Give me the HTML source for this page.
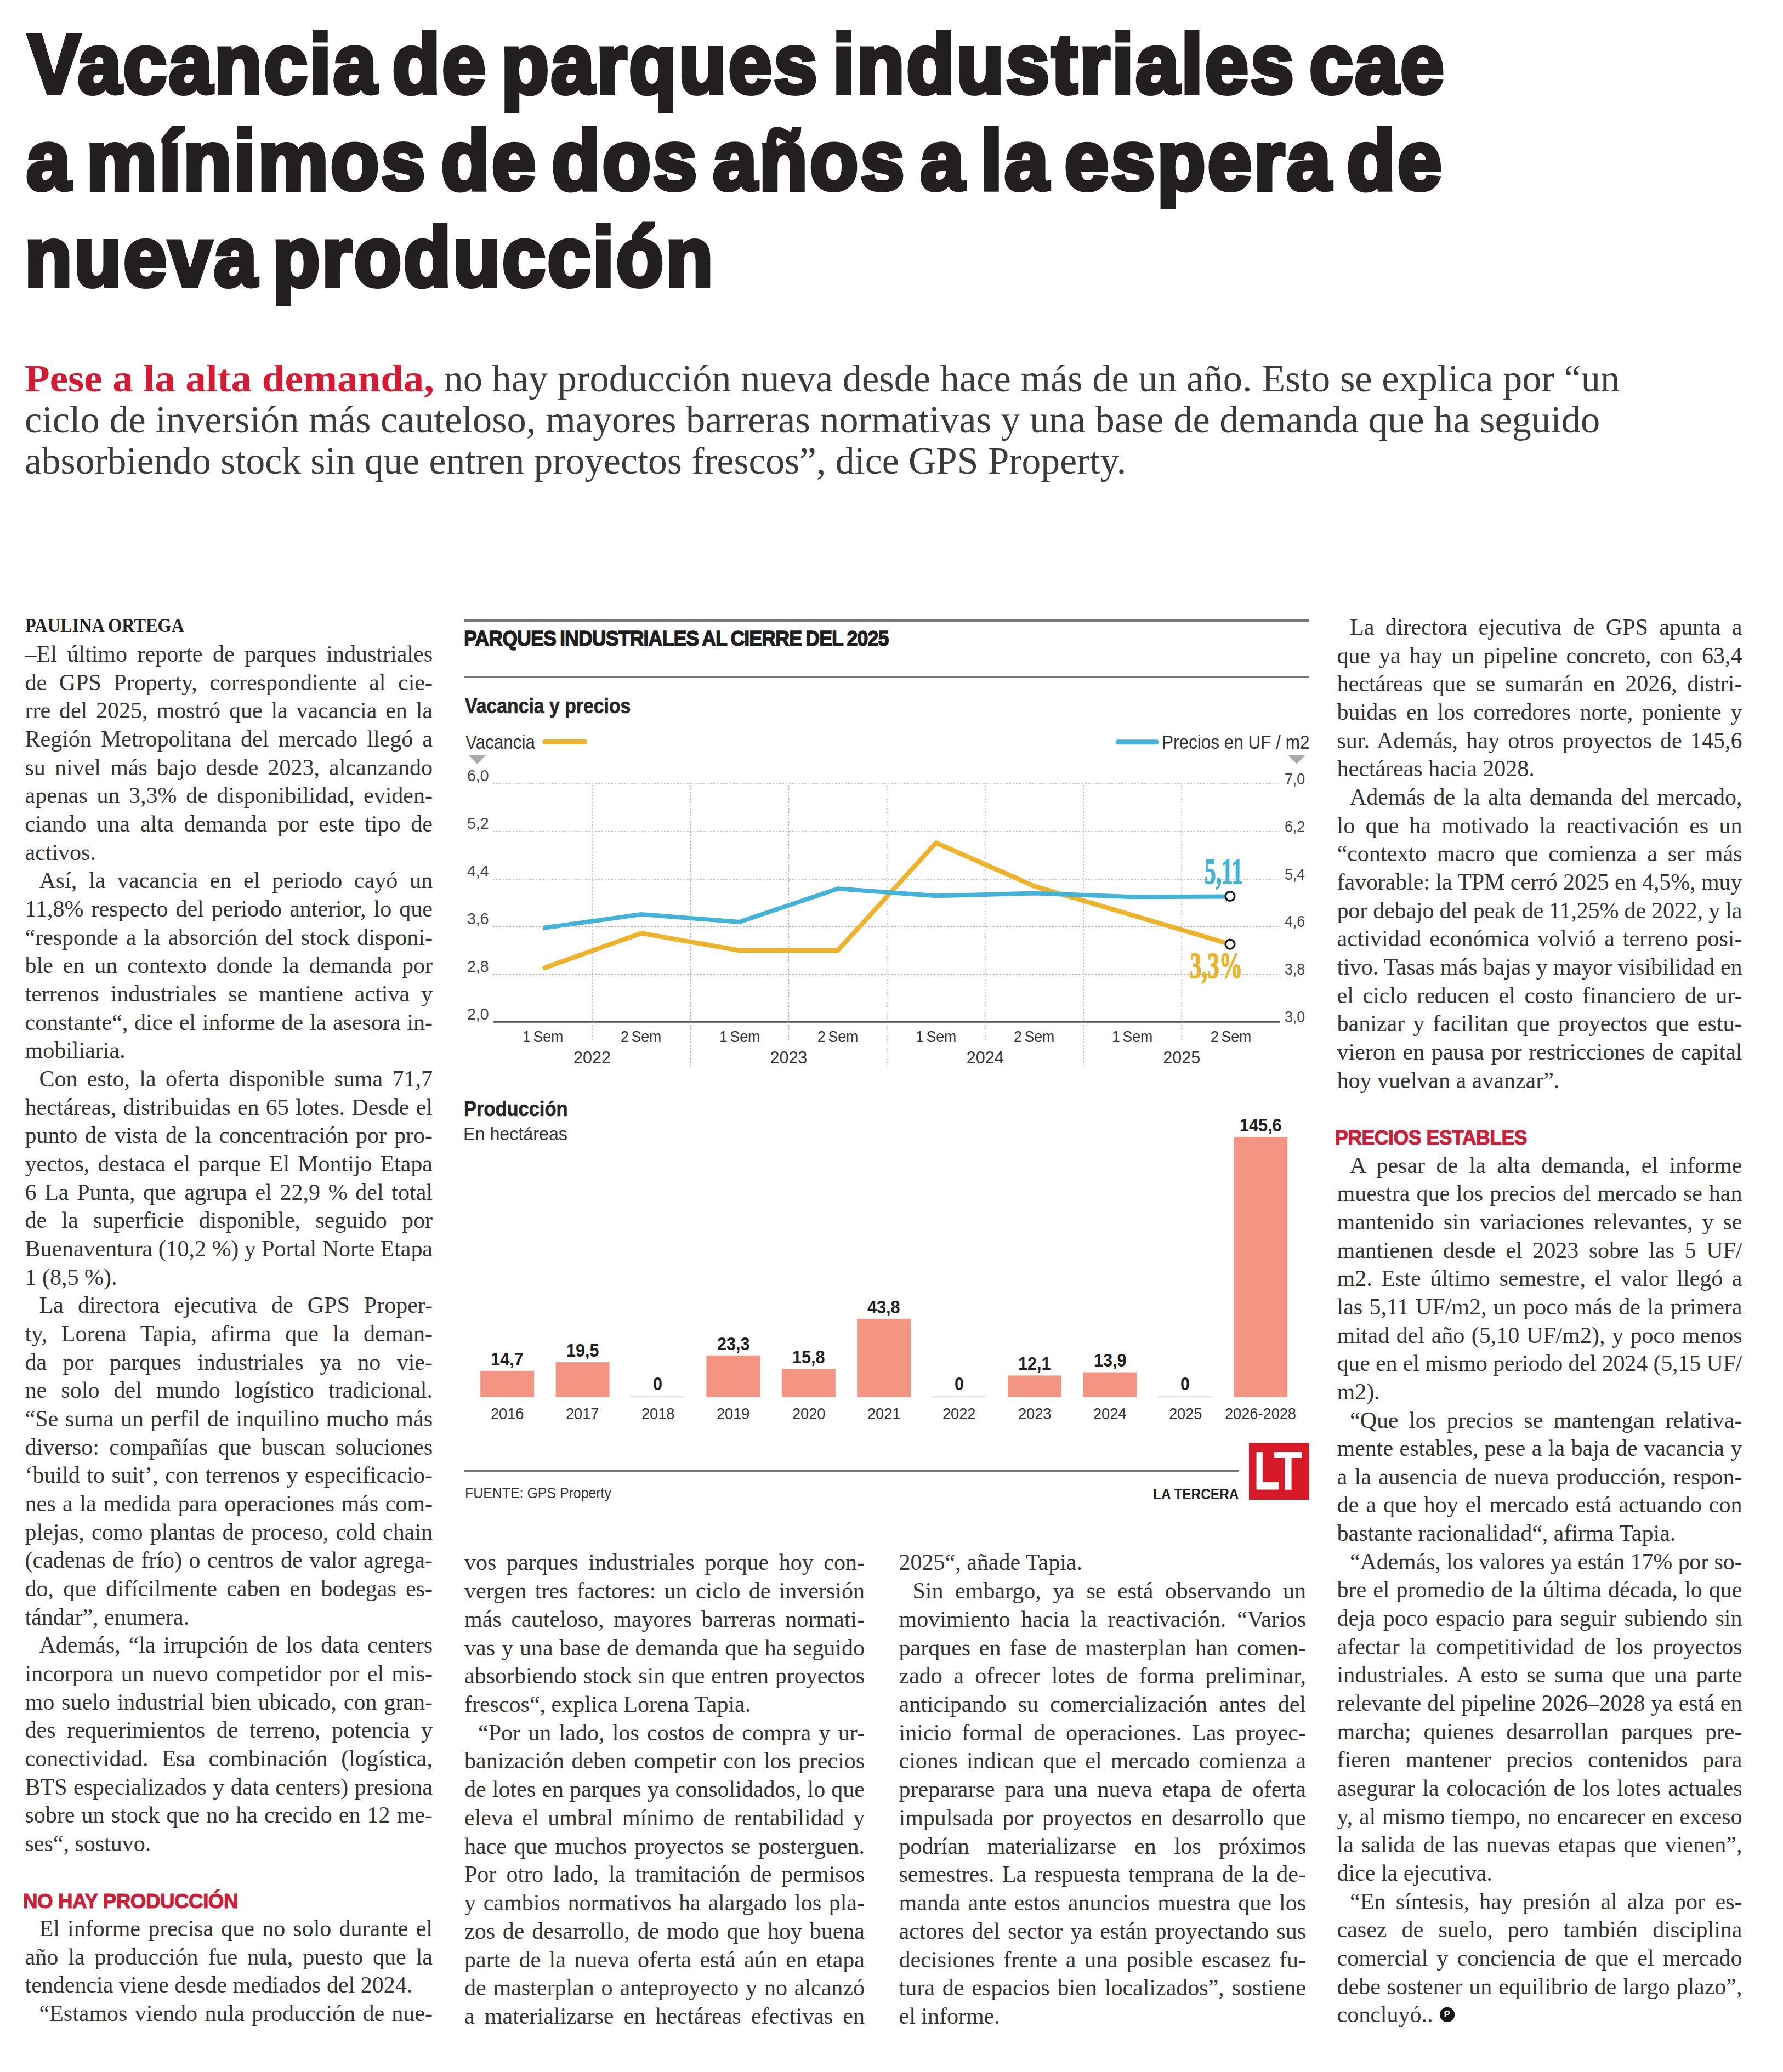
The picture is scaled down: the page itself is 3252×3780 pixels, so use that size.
<!DOCTYPE html><html><head><meta charset="utf-8"><style>
html,body{margin:0;padding:0;background:#fff}
body{width:3252px;height:3780px;position:relative;overflow:hidden}
.t{position:absolute;white-space:pre;line-height:1;transform-origin:0 0}
svg{position:absolute;left:0;top:0}
</style></head><body>
<svg width="3252" height="3780" viewBox="0 0 3252 3780"><line x1="846" y1="1132" x2="2387.5" y2="1132" stroke="#777" stroke-width="4"/><line x1="846" y1="1234.8" x2="2387.5" y2="1234.8" stroke="#777" stroke-width="3.5"/><line x1="994" y1="1353.5" x2="1067" y2="1353.5" stroke="#eeb32a" stroke-width="9" stroke-linecap="round"/><line x1="2039" y1="1353.8" x2="2109" y2="1353.8" stroke="#44b3da" stroke-width="9" stroke-linecap="round"/><polygon points="854.5,1377 886.7,1377 870.6,1394" fill="#a8a8a8"/><polygon points="2349,1377.4 2381,1377.4 2365,1393.5" fill="#a8a8a8"/><line x1="899" y1="1430.0" x2="2334" y2="1430.0" stroke="#b2b2b2" stroke-width="1.5" stroke-dasharray="3 3"/><line x1="899" y1="1517.0" x2="2334" y2="1517.0" stroke="#b2b2b2" stroke-width="1.5" stroke-dasharray="3 3"/><line x1="899" y1="1604.0" x2="2334" y2="1604.0" stroke="#b2b2b2" stroke-width="1.5" stroke-dasharray="3 3"/><line x1="899" y1="1690.5" x2="2334" y2="1690.5" stroke="#b2b2b2" stroke-width="1.5" stroke-dasharray="3 3"/><line x1="899" y1="1777.3" x2="2334" y2="1777.3" stroke="#b2b2b2" stroke-width="1.5" stroke-dasharray="3 3"/><line x1="899" y1="1864.3" x2="2334" y2="1864.3" stroke="#555" stroke-width="3"/><line x1="1080.0" y1="1432" x2="1080.0" y2="1897" stroke="#b2b2b2" stroke-width="1.5" stroke-dasharray="3 3"/><line x1="1259.2" y1="1432" x2="1259.2" y2="1948" stroke="#b2b2b2" stroke-width="1.5" stroke-dasharray="3 3"/><line x1="1438.4" y1="1432" x2="1438.4" y2="1897" stroke="#b2b2b2" stroke-width="1.5" stroke-dasharray="3 3"/><line x1="1617.6" y1="1432" x2="1617.6" y2="1948" stroke="#b2b2b2" stroke-width="1.5" stroke-dasharray="3 3"/><line x1="1796.8" y1="1432" x2="1796.8" y2="1897" stroke="#b2b2b2" stroke-width="1.5" stroke-dasharray="3 3"/><line x1="1976.0" y1="1432" x2="1976.0" y2="1948" stroke="#b2b2b2" stroke-width="1.5" stroke-dasharray="3 3"/><line x1="2155.2" y1="1432" x2="2155.2" y2="1897" stroke="#b2b2b2" stroke-width="1.5" stroke-dasharray="3 3"/><polyline points="990.4,1766.8 1169.6,1702.4 1348.8,1734.0 1528.0,1734.0 1707.2,1537.5 1886.4,1616.6 2065.6,1669.6 2244.8,1723.0" fill="none" stroke="#eeb32a" stroke-width="8.5" stroke-linejoin="round"/><polyline points="990.4,1693.0 1169.6,1668.0 1348.8,1681.9 1528.0,1621.3 1707.2,1634.3 1886.4,1629.6 2065.6,1636.2 2244.8,1635.5" fill="none" stroke="#44b3da" stroke-width="8" stroke-linejoin="round"/><circle cx="2243.5" cy="1635" r="8.3" fill="#fff" stroke="#1a1a1a" stroke-width="3.6"/><circle cx="2243.5" cy="1722.6" r="8.3" fill="#fff" stroke="#1a1a1a" stroke-width="3.6"/><rect x="876.2" y="2500.9" width="98" height="47.9" fill="#f49583"/><rect x="1013.6" y="2485.2" width="98" height="63.6" fill="#f49583"/><line x1="1150.0" y1="2548.3" x2="1247.0" y2="2548.3" stroke="#d8d8d8" stroke-width="2"/><rect x="1288.4" y="2472.8" width="98" height="76.0" fill="#f49583"/><rect x="1425.8" y="2497.3" width="98" height="51.5" fill="#f49583"/><rect x="1563.2" y="2406.0" width="98" height="142.8" fill="#f49583"/><line x1="1699.6" y1="2548.3" x2="1796.6" y2="2548.3" stroke="#d8d8d8" stroke-width="2"/><rect x="1838.0" y="2509.4" width="98" height="39.4" fill="#f49583"/><rect x="1975.4" y="2503.5" width="98" height="45.3" fill="#f49583"/><line x1="2111.8" y1="2548.3" x2="2208.8" y2="2548.3" stroke="#d8d8d8" stroke-width="2"/><rect x="2250.2" y="2074.1" width="98" height="474.7" fill="#f49583"/><line x1="847" y1="2683.6" x2="2260" y2="2683.6" stroke="#777" stroke-width="3.5"/><rect x="2278" y="2632.5" width="110" height="103.5" fill="#d71a28"/><circle cx="2639.6" cy="3675.4" r="13.6" fill="#161616"/><path d="M2291.6 2649 h11.3 v55 h29.1 v13.6 h-40.4 z" fill="#fff"/><path d="M2324.2 2649 h50.4 v10.7 h-19 v58 h-12.4 v-58 h-19 z" fill="#fff"/></svg>
<div class="t" style="left:51.00px;top:39.61px;font:bold 154px 'Liberation Sans', sans-serif;line-height:154px;color:#231f20;letter-spacing:4px;word-spacing:-20px;transform:scaleX(0.9254);-webkit-text-stroke:8px #231f20">Vacancia de parques industriales cae</div>
<div class="t" style="left:48.00px;top:215.61px;font:bold 154px 'Liberation Sans', sans-serif;line-height:154px;color:#231f20;letter-spacing:4px;word-spacing:-20px;transform:scaleX(0.9405);-webkit-text-stroke:8px #231f20">a mínimos de dos años a la espera de</div>
<div class="t" style="left:45.00px;top:391.61px;font:bold 154px 'Liberation Sans', sans-serif;line-height:154px;color:#231f20;letter-spacing:4px;word-spacing:-20px;transform:scaleX(0.9188);-webkit-text-stroke:8px #231f20">nueva producción</div>
<div class="t" style="left:45.00px;top:655.88px;font:bold 70px 'Liberation Serif', serif;line-height:70px;color:#d61a34;transform:scaleX(1.0702)">Pese a la alta demanda,</div>
<div class="t" style="left:792.00px;top:655.88px;font:normal 70px 'Liberation Serif', serif;line-height:70px;color:#3c3c3c;transform:scaleX(1.0057)"> no hay producción nueva desde hace más de un año. Esto se explica por “un</div>
<div class="t" style="left:45.00px;top:730.88px;font:normal 70px 'Liberation Serif', serif;line-height:70px;color:#3c3c3c;transform:scaleX(1.0055)">ciclo de inversión más cauteloso, mayores barreras normativas y una base de demanda que ha seguido</div>
<div class="t" style="left:45.00px;top:805.88px;font:normal 70px 'Liberation Serif', serif;line-height:70px;color:#3c3c3c;transform:scaleX(0.9931)">absorbiendo stock sin que entren proyectos frescos”, dice GPS Property.</div>
<div class="t" style="left:45.50px;top:1123.69px;font:bold 35px 'Liberation Serif', serif;line-height:35px;color:#222;transform:scaleX(0.9232)">PAULINA ORTEGA</div>
<div class="t" style="left:45.50px;top:1171.83px;font:normal 42px 'Liberation Serif', serif;line-height:42px;color:#333333;word-spacing:8.034px">–El último reporte de parques industriales</div>
<div class="t" style="left:45.50px;top:1223.50px;font:normal 42px 'Liberation Serif', serif;line-height:42px;color:#333333;word-spacing:12.084px">de GPS Property, correspondiente al cie-</div>
<div class="t" style="left:45.50px;top:1275.17px;font:normal 42px 'Liberation Serif', serif;line-height:42px;color:#333333;word-spacing:5.328px">rre del 2025, mostró que la vacancia en la</div>
<div class="t" style="left:45.50px;top:1326.84px;font:normal 42px 'Liberation Serif', serif;line-height:42px;color:#333333;word-spacing:6.644px">Región Metropolitana del mercado llegó a</div>
<div class="t" style="left:45.50px;top:1378.51px;font:normal 42px 'Liberation Serif', serif;line-height:42px;color:#333333;word-spacing:6.701px">su nivel más bajo desde 2023, alcanzando</div>
<div class="t" style="left:45.50px;top:1430.18px;font:normal 42px 'Liberation Serif', serif;line-height:42px;color:#333333;word-spacing:6.166px">apenas un 3,3% de disponibilidad, eviden-</div>
<div class="t" style="left:45.50px;top:1481.85px;font:normal 42px 'Liberation Serif', serif;line-height:42px;color:#333333;word-spacing:8.417px">ciando una alta demanda por este tipo de</div>
<div class="t" style="left:45.50px;top:1533.52px;font:normal 42px 'Liberation Serif', serif;line-height:42px;color:#333333">activos.</div>
<div class="t" style="left:71.50px;top:1585.19px;font:normal 42px 'Liberation Serif', serif;line-height:42px;color:#333333;word-spacing:11.203px">Así, la vacancia en el periodo cayó un</div>
<div class="t" style="left:45.50px;top:1636.86px;font:normal 42px 'Liberation Serif', serif;line-height:42px;color:#333333;word-spacing:3.552px">11,8% respecto del periodo anterior, lo que</div>
<div class="t" style="left:45.50px;top:1688.53px;font:normal 42px 'Liberation Serif', serif;line-height:42px;color:#333333;word-spacing:3.393px">“responde a la absorción del stock disponi-</div>
<div class="t" style="left:45.50px;top:1740.20px;font:normal 42px 'Liberation Serif', serif;line-height:42px;color:#333333;word-spacing:7.413px">ble en un contexto donde la demanda por</div>
<div class="t" style="left:45.50px;top:1791.87px;font:normal 42px 'Liberation Serif', serif;line-height:42px;color:#333333;word-spacing:10.381px">terrenos industriales se mantiene activa y</div>
<div class="t" style="left:45.50px;top:1843.54px;font:normal 42px 'Liberation Serif', serif;line-height:42px;color:#333333;word-spacing:1.261px">constante“, dice el informe de la asesora in-</div>
<div class="t" style="left:45.50px;top:1895.21px;font:normal 42px 'Liberation Serif', serif;line-height:42px;color:#333333">mobiliaria.</div>
<div class="t" style="left:71.50px;top:1946.88px;font:normal 42px 'Liberation Serif', serif;line-height:42px;color:#333333;word-spacing:6.823px">Con esto, la oferta disponible suma 71,7</div>
<div class="t" style="left:45.50px;top:1998.55px;font:normal 42px 'Liberation Serif', serif;line-height:42px;color:#333333;word-spacing:1.844px">hectáreas, distribuidas en 65 lotes. Desde el</div>
<div class="t" style="left:45.50px;top:2050.22px;font:normal 42px 'Liberation Serif', serif;line-height:42px;color:#333333;word-spacing:3.417px">punto de vista de la concentración por pro-</div>
<div class="t" style="left:45.50px;top:2101.89px;font:normal 42px 'Liberation Serif', serif;line-height:42px;color:#333333;word-spacing:4.375px">yectos, destaca el parque El Montijo Etapa</div>
<div class="t" style="left:45.50px;top:2153.56px;font:normal 42px 'Liberation Serif', serif;line-height:42px;color:#333333;word-spacing:4.207px">6 La Punta, que agrupa el 22,9 % del total</div>
<div class="t" style="left:45.50px;top:2205.23px;font:normal 42px 'Liberation Serif', serif;line-height:42px;color:#333333;word-spacing:16.666px">de la superficie disponible, seguido por</div>
<div class="t" style="left:45.50px;top:2256.90px;font:normal 42px 'Liberation Serif', serif;line-height:42px;color:#333333;letter-spacing:-0.043px">Buenaventura (10,2 %) y Portal Norte Etapa</div>
<div class="t" style="left:45.50px;top:2308.57px;font:normal 42px 'Liberation Serif', serif;line-height:42px;color:#333333">1 (8,5 %).</div>
<div class="t" style="left:71.50px;top:2360.24px;font:normal 42px 'Liberation Serif', serif;line-height:42px;color:#333333;word-spacing:15.616px">La directora ejecutiva de GPS Proper-</div>
<div class="t" style="left:45.50px;top:2411.91px;font:normal 42px 'Liberation Serif', serif;line-height:42px;color:#333333;word-spacing:15.370px">ty, Lorena Tapia, afirma que la deman-</div>
<div class="t" style="left:45.50px;top:2463.58px;font:normal 42px 'Liberation Serif', serif;line-height:42px;color:#333333;word-spacing:18.945px">da por parques industriales ya no vie-</div>
<div class="t" style="left:45.50px;top:2515.25px;font:normal 42px 'Liberation Serif', serif;line-height:42px;color:#333333;word-spacing:15.722px">ne solo del mundo logístico tradicional.</div>
<div class="t" style="left:45.50px;top:2566.92px;font:normal 42px 'Liberation Serif', serif;line-height:42px;color:#333333;word-spacing:2.065px">“Se suma un perfil de inquilino mucho más</div>
<div class="t" style="left:45.50px;top:2618.59px;font:normal 42px 'Liberation Serif', serif;line-height:42px;color:#333333;word-spacing:8.000px">diverso: compañías que buscan soluciones</div>
<div class="t" style="left:45.50px;top:2670.26px;font:normal 42px 'Liberation Serif', serif;line-height:42px;color:#333333;word-spacing:2.042px">‘build to suit’, con terrenos y especificacio-</div>
<div class="t" style="left:45.50px;top:2721.93px;font:normal 42px 'Liberation Serif', serif;line-height:42px;color:#333333;word-spacing:2.092px">nes a la medida para operaciones más com-</div>
<div class="t" style="left:45.50px;top:2773.60px;font:normal 42px 'Liberation Serif', serif;line-height:42px;color:#333333;word-spacing:2.622px">plejas, como plantas de proceso, cold chain</div>
<div class="t" style="left:45.50px;top:2825.27px;font:normal 42px 'Liberation Serif', serif;line-height:42px;color:#333333;word-spacing:2.100px">(cadenas de frío) o centros de valor agrega-</div>
<div class="t" style="left:45.50px;top:2876.94px;font:normal 42px 'Liberation Serif', serif;line-height:42px;color:#333333;word-spacing:6.711px">do, que difícilmente caben en bodegas es-</div>
<div class="t" style="left:45.50px;top:2928.61px;font:normal 42px 'Liberation Serif', serif;line-height:42px;color:#333333">tándar”, enumera.</div>
<div class="t" style="left:71.50px;top:2980.28px;font:normal 42px 'Liberation Serif', serif;line-height:42px;color:#333333;word-spacing:4.320px">Además, “la irrupción de los data centers</div>
<div class="t" style="left:45.50px;top:3031.95px;font:normal 42px 'Liberation Serif', serif;line-height:42px;color:#333333;word-spacing:3.781px">incorpora un nuevo competidor por el mis-</div>
<div class="t" style="left:45.50px;top:3083.62px;font:normal 42px 'Liberation Serif', serif;line-height:42px;color:#333333;word-spacing:2.417px">mo suelo industrial bien ubicado, con gran-</div>
<div class="t" style="left:45.50px;top:3135.29px;font:normal 42px 'Liberation Serif', serif;line-height:42px;color:#333333;word-spacing:10.153px">des requerimientos de terreno, potencia y</div>
<div class="t" style="left:45.50px;top:3186.96px;font:normal 42px 'Liberation Serif', serif;line-height:42px;color:#333333;word-spacing:14.188px">conectividad. Esa combinación (logística,</div>
<div class="t" style="left:45.50px;top:3238.63px;font:normal 42px 'Liberation Serif', serif;line-height:42px;color:#333333;word-spacing:1.053px">BTS especializados y data centers) presiona</div>
<div class="t" style="left:45.50px;top:3290.30px;font:normal 42px 'Liberation Serif', serif;line-height:42px;color:#333333;word-spacing:1.618px">sobre un stock que no ha crecido en 12 me-</div>
<div class="t" style="left:45.50px;top:3341.97px;font:normal 42px 'Liberation Serif', serif;line-height:42px;color:#333333">ses“, sostuvo.</div>
<div class="t" style="left:42.00px;top:3449.65px;font:bold 37px 'Liberation Sans', sans-serif;line-height:37px;color:#cc1f3a;letter-spacing:-0.5px;transform:scaleX(0.9938);-webkit-text-stroke:1.1px #cc1f3a">NO HAY PRODUCCIÓN</div>
<div class="t" style="left:71.50px;top:3496.98px;font:normal 42px 'Liberation Serif', serif;line-height:42px;color:#333333;word-spacing:3.699px">El informe precisa que no solo durante el</div>
<div class="t" style="left:45.50px;top:3548.65px;font:normal 42px 'Liberation Serif', serif;line-height:42px;color:#333333;word-spacing:7.580px">año la producción fue nula, puesto que la</div>
<div class="t" style="left:45.50px;top:3600.32px;font:normal 42px 'Liberation Serif', serif;line-height:42px;color:#333333">tendencia viene desde mediados del 2024.</div>
<div class="t" style="left:71.50px;top:3651.99px;font:normal 42px 'Liberation Serif', serif;line-height:42px;color:#333333;word-spacing:2.841px">“Estamos viendo nula producción de nue-</div>
<div class="t" style="left:847.00px;top:2829.43px;font:normal 42px 'Liberation Serif', serif;line-height:42px;color:#333333;word-spacing:8.128px">vos parques industriales porque hoy con-</div>
<div class="t" style="left:847.00px;top:2881.15px;font:normal 42px 'Liberation Serif', serif;line-height:42px;color:#333333;word-spacing:4.781px">vergen tres factores: un ciclo de inversión</div>
<div class="t" style="left:847.00px;top:2932.87px;font:normal 42px 'Liberation Serif', serif;line-height:42px;color:#333333;word-spacing:7.273px">más cauteloso, mayores barreras normati-</div>
<div class="t" style="left:847.00px;top:2984.59px;font:normal 42px 'Liberation Serif', serif;line-height:42px;color:#333333;word-spacing:1.445px">vas y una base de demanda que ha seguido</div>
<div class="t" style="left:847.00px;top:3036.31px;font:normal 42px 'Liberation Serif', serif;line-height:42px;color:#333333;word-spacing:1.134px">absorbiendo stock sin que entren proyectos</div>
<div class="t" style="left:847.00px;top:3088.03px;font:normal 42px 'Liberation Serif', serif;line-height:42px;color:#333333">frescos“, explica Lorena Tapia.</div>
<div class="t" style="left:872.00px;top:3139.75px;font:normal 42px 'Liberation Serif', serif;line-height:42px;color:#333333;word-spacing:3.809px">“Por un lado, los costos de compra y ur-</div>
<div class="t" style="left:847.00px;top:3191.47px;font:normal 42px 'Liberation Serif', serif;line-height:42px;color:#333333;word-spacing:3.019px">banización deben competir con los precios</div>
<div class="t" style="left:847.00px;top:3243.19px;font:normal 42px 'Liberation Serif', serif;line-height:42px;color:#333333;word-spacing:0.645px">de lotes en parques ya consolidados, lo que</div>
<div class="t" style="left:847.00px;top:3294.91px;font:normal 42px 'Liberation Serif', serif;line-height:42px;color:#333333;word-spacing:6.203px">eleva el umbral mínimo de rentabilidad y</div>
<div class="t" style="left:847.00px;top:3346.63px;font:normal 42px 'Liberation Serif', serif;line-height:42px;color:#333333;word-spacing:3.397px">hace que muchos proyectos se posterguen.</div>
<div class="t" style="left:847.00px;top:3398.35px;font:normal 42px 'Liberation Serif', serif;line-height:42px;color:#333333;word-spacing:7.552px">Por otro lado, la tramitación de permisos</div>
<div class="t" style="left:847.00px;top:3450.07px;font:normal 42px 'Liberation Serif', serif;line-height:42px;color:#333333;word-spacing:3.214px">y cambios normativos ha alargado los pla-</div>
<div class="t" style="left:847.00px;top:3501.79px;font:normal 42px 'Liberation Serif', serif;line-height:42px;color:#333333;word-spacing:3.312px">zos de desarrollo, de modo que hoy buena</div>
<div class="t" style="left:847.00px;top:3553.51px;font:normal 42px 'Liberation Serif', serif;line-height:42px;color:#333333;word-spacing:4.965px">parte de la nueva oferta está aún en etapa</div>
<div class="t" style="left:847.00px;top:3605.23px;font:normal 42px 'Liberation Serif', serif;line-height:42px;color:#333333;word-spacing:2.328px">de masterplan o anteproyecto y no alcanzó</div>
<div class="t" style="left:847.00px;top:3656.95px;font:normal 42px 'Liberation Serif', serif;line-height:42px;color:#333333;word-spacing:7.722px">a materializarse en hectáreas efectivas en</div>
<div class="t" style="left:1639.50px;top:2829.43px;font:normal 42px 'Liberation Serif', serif;line-height:42px;color:#333333">2025“, añade Tapia.</div>
<div class="t" style="left:1664.50px;top:2881.15px;font:normal 42px 'Liberation Serif', serif;line-height:42px;color:#333333;word-spacing:11.042px">Sin embargo, ya se está observando un</div>
<div class="t" style="left:1639.50px;top:2932.87px;font:normal 42px 'Liberation Serif', serif;line-height:42px;color:#333333;word-spacing:9.234px">movimiento hacia la reactivación. “Varios</div>
<div class="t" style="left:1639.50px;top:2984.59px;font:normal 42px 'Liberation Serif', serif;line-height:42px;color:#333333;word-spacing:5.190px">parques en fase de masterplan han comen-</div>
<div class="t" style="left:1639.50px;top:3036.31px;font:normal 42px 'Liberation Serif', serif;line-height:42px;color:#333333;word-spacing:9.948px">zado a ofrecer lotes de forma preliminar,</div>
<div class="t" style="left:1639.50px;top:3088.03px;font:normal 42px 'Liberation Serif', serif;line-height:42px;color:#333333;word-spacing:10.695px">anticipando su comercialización antes del</div>
<div class="t" style="left:1639.50px;top:3139.75px;font:normal 42px 'Liberation Serif', serif;line-height:42px;color:#333333;word-spacing:8.556px">inicio formal de operaciones. Las proyec-</div>
<div class="t" style="left:1639.50px;top:3191.47px;font:normal 42px 'Liberation Serif', serif;line-height:42px;color:#333333;word-spacing:5.583px">ciones indican que el mercado comienza a</div>
<div class="t" style="left:1639.50px;top:3243.19px;font:normal 42px 'Liberation Serif', serif;line-height:42px;color:#333333;word-spacing:7.544px">prepararse para una nueva etapa de oferta</div>
<div class="t" style="left:1639.50px;top:3294.91px;font:normal 42px 'Liberation Serif', serif;line-height:42px;color:#333333;word-spacing:5.972px">impulsada por proyectos en desarrollo que</div>
<div class="t" style="left:1639.50px;top:3346.63px;font:normal 42px 'Liberation Serif', serif;line-height:42px;color:#333333;word-spacing:22.340px">podrían materializarse en los próximos</div>
<div class="t" style="left:1639.50px;top:3398.35px;font:normal 42px 'Liberation Serif', serif;line-height:42px;color:#333333;word-spacing:4.219px">semestres. La respuesta temprana de la de-</div>
<div class="t" style="left:1639.50px;top:3450.07px;font:normal 42px 'Liberation Serif', serif;line-height:42px;color:#333333;word-spacing:3.615px">manda ante estos anuncios muestra que los</div>
<div class="t" style="left:1639.50px;top:3501.79px;font:normal 42px 'Liberation Serif', serif;line-height:42px;color:#333333;word-spacing:3.628px">actores del sector ya están proyectando sus</div>
<div class="t" style="left:1639.50px;top:3553.51px;font:normal 42px 'Liberation Serif', serif;line-height:42px;color:#333333;word-spacing:5.190px">decisiones frente a una posible escasez fu-</div>
<div class="t" style="left:1639.50px;top:3605.23px;font:normal 42px 'Liberation Serif', serif;line-height:42px;color:#333333;word-spacing:3.419px">tura de espacios bien localizados”, sostiene</div>
<div class="t" style="left:1639.50px;top:3656.95px;font:normal 42px 'Liberation Serif', serif;line-height:42px;color:#333333">el informe.</div>
<div class="t" style="left:2462.00px;top:1123.03px;font:normal 42px 'Liberation Serif', serif;line-height:42px;color:#333333;word-spacing:10.018px">La directora ejecutiva de GPS apunta a</div>
<div class="t" style="left:2438.50px;top:1174.69px;font:normal 42px 'Liberation Serif', serif;line-height:42px;color:#333333;word-spacing:5.438px">que ya hay un pipeline concreto, con 63,4</div>
<div class="t" style="left:2438.50px;top:1226.35px;font:normal 42px 'Liberation Serif', serif;line-height:42px;color:#333333;word-spacing:7.901px">hectáreas que se sumarán en 2026, distri-</div>
<div class="t" style="left:2438.50px;top:1278.01px;font:normal 42px 'Liberation Serif', serif;line-height:42px;color:#333333;word-spacing:6.339px">buidas en los corredores norte, poniente y</div>
<div class="t" style="left:2438.50px;top:1329.67px;font:normal 42px 'Liberation Serif', serif;line-height:42px;color:#333333;word-spacing:4.768px">sur. Además, hay otros proyectos de 145,6</div>
<div class="t" style="left:2438.50px;top:1381.33px;font:normal 42px 'Liberation Serif', serif;line-height:42px;color:#333333">hectáreas hacia 2028.</div>
<div class="t" style="left:2462.00px;top:1432.99px;font:normal 42px 'Liberation Serif', serif;line-height:42px;color:#333333;word-spacing:4.385px">Además de la alta demanda del mercado,</div>
<div class="t" style="left:2438.50px;top:1484.65px;font:normal 42px 'Liberation Serif', serif;line-height:42px;color:#333333;word-spacing:8.770px">lo que ha motivado la reactivación es un</div>
<div class="t" style="left:2438.50px;top:1536.31px;font:normal 42px 'Liberation Serif', serif;line-height:42px;color:#333333;word-spacing:8.495px">“contexto macro que comienza a ser más</div>
<div class="t" style="left:2438.50px;top:1587.97px;font:normal 42px 'Liberation Serif', serif;line-height:42px;color:#333333;letter-spacing:-0.080px">favorable: la TPM cerró 2025 en 4,5%, muy</div>
<div class="t" style="left:2438.50px;top:1639.63px;font:normal 42px 'Liberation Serif', serif;line-height:42px;color:#333333;letter-spacing:-0.168px">por debajo del peak de 11,25% de 2022, y la</div>
<div class="t" style="left:2438.50px;top:1691.29px;font:normal 42px 'Liberation Serif', serif;line-height:42px;color:#333333;word-spacing:4.350px">actividad económica volvió a terreno posi-</div>
<div class="t" style="left:2438.50px;top:1742.95px;font:normal 42px 'Liberation Serif', serif;line-height:42px;color:#333333;letter-spacing:-0.035px">tivo. Tasas más bajas y mayor visibilidad en</div>
<div class="t" style="left:2438.50px;top:1794.61px;font:normal 42px 'Liberation Serif', serif;line-height:42px;color:#333333;word-spacing:6.239px">el ciclo reducen el costo financiero de ur-</div>
<div class="t" style="left:2438.50px;top:1846.27px;font:normal 42px 'Liberation Serif', serif;line-height:42px;color:#333333;word-spacing:4.604px">banizar y facilitan que proyectos que estu-</div>
<div class="t" style="left:2438.50px;top:1897.93px;font:normal 42px 'Liberation Serif', serif;line-height:42px;color:#333333;word-spacing:2.271px">vieron en pausa por restricciones de capital</div>
<div class="t" style="left:2438.50px;top:1949.59px;font:normal 42px 'Liberation Serif', serif;line-height:42px;color:#333333">hoy vuelvan a avanzar”.</div>
<div class="t" style="left:2435.00px;top:2057.25px;font:bold 37px 'Liberation Sans', sans-serif;line-height:37px;color:#cc1f3a;letter-spacing:-0.5px;transform:scaleX(0.9630);-webkit-text-stroke:1.1px #cc1f3a">PRECIOS ESTABLES</div>
<div class="t" style="left:2462.00px;top:2104.57px;font:normal 42px 'Liberation Serif', serif;line-height:42px;color:#333333;word-spacing:9.920px">A pesar de la alta demanda, el informe</div>
<div class="t" style="left:2438.50px;top:2156.23px;font:normal 42px 'Liberation Serif', serif;line-height:42px;color:#333333;word-spacing:1.440px">muestra que los precios del mercado se han</div>
<div class="t" style="left:2438.50px;top:2207.89px;font:normal 42px 'Liberation Serif', serif;line-height:42px;color:#333333;word-spacing:6.447px">mantenido sin variaciones relevantes, y se</div>
<div class="t" style="left:2438.50px;top:2259.55px;font:normal 42px 'Liberation Serif', serif;line-height:42px;color:#333333;word-spacing:8.092px">mantienen desde el 2023 sobre las 5 UF/</div>
<div class="t" style="left:2438.50px;top:2311.21px;font:normal 42px 'Liberation Serif', serif;line-height:42px;color:#333333;word-spacing:6.096px">m2. Este último semestre, el valor llegó a</div>
<div class="t" style="left:2438.50px;top:2362.87px;font:normal 42px 'Liberation Serif', serif;line-height:42px;color:#333333;word-spacing:1.879px">las 5,11 UF/m2, un poco más de la primera</div>
<div class="t" style="left:2438.50px;top:2414.53px;font:normal 42px 'Liberation Serif', serif;line-height:42px;color:#333333;word-spacing:2.085px">mitad del año (5,10 UF/m2), y poco menos</div>
<div class="t" style="left:2438.50px;top:2466.19px;font:normal 42px 'Liberation Serif', serif;line-height:42px;color:#333333;letter-spacing:-0.156px">que en el mismo periodo del 2024 (5,15 UF/</div>
<div class="t" style="left:2438.50px;top:2517.85px;font:normal 42px 'Liberation Serif', serif;line-height:42px;color:#333333">m2).</div>
<div class="t" style="left:2462.00px;top:2569.51px;font:normal 42px 'Liberation Serif', serif;line-height:42px;color:#333333;word-spacing:8.984px">“Que los precios se mantengan relativa-</div>
<div class="t" style="left:2438.50px;top:2621.17px;font:normal 42px 'Liberation Serif', serif;line-height:42px;color:#333333;word-spacing:0.984px">mente estables, pese a la baja de vacancia y</div>
<div class="t" style="left:2438.50px;top:2672.83px;font:normal 42px 'Liberation Serif', serif;line-height:42px;color:#333333;word-spacing:2.857px">a la ausencia de nueva producción, respon-</div>
<div class="t" style="left:2438.50px;top:2724.49px;font:normal 42px 'Liberation Serif', serif;line-height:42px;color:#333333;word-spacing:2.580px">de a que hoy el mercado está actuando con</div>
<div class="t" style="left:2438.50px;top:2776.15px;font:normal 42px 'Liberation Serif', serif;line-height:42px;color:#333333">bastante racionalidad“, afirma Tapia.</div>
<div class="t" style="left:2462.00px;top:2827.81px;font:normal 42px 'Liberation Serif', serif;line-height:42px;color:#333333;letter-spacing:-0.133px">“Además, los valores ya están 17% por so-</div>
<div class="t" style="left:2438.50px;top:2879.47px;font:normal 42px 'Liberation Serif', serif;line-height:42px;color:#333333;word-spacing:1.555px">bre el promedio de la última década, lo que</div>
<div class="t" style="left:2438.50px;top:2931.13px;font:normal 42px 'Liberation Serif', serif;line-height:42px;color:#333333;word-spacing:3.812px">deja poco espacio para seguir subiendo sin</div>
<div class="t" style="left:2438.50px;top:2982.79px;font:normal 42px 'Liberation Serif', serif;line-height:42px;color:#333333;word-spacing:7.619px">afectar la competitividad de los proyectos</div>
<div class="t" style="left:2438.50px;top:3034.45px;font:normal 42px 'Liberation Serif', serif;line-height:42px;color:#333333;word-spacing:5.592px">industriales. A esto se suma que una parte</div>
<div class="t" style="left:2438.50px;top:3086.11px;font:normal 42px 'Liberation Serif', serif;line-height:42px;color:#333333;word-spacing:0.320px">relevante del pipeline 2026–2028 ya está en</div>
<div class="t" style="left:2438.50px;top:3137.77px;font:normal 42px 'Liberation Serif', serif;line-height:42px;color:#333333;word-spacing:12.160px">marcha; quienes desarrollan parques pre-</div>
<div class="t" style="left:2438.50px;top:3189.43px;font:normal 42px 'Liberation Serif', serif;line-height:42px;color:#333333;word-spacing:16.824px">fieren mantener precios contenidos para</div>
<div class="t" style="left:2438.50px;top:3241.09px;font:normal 42px 'Liberation Serif', serif;line-height:42px;color:#333333;word-spacing:3.052px">asegurar la colocación de los lotes actuales</div>
<div class="t" style="left:2438.50px;top:3292.75px;font:normal 42px 'Liberation Serif', serif;line-height:42px;color:#333333;word-spacing:1.167px">y, al mismo tiempo, no encarecer en exceso</div>
<div class="t" style="left:2438.50px;top:3344.41px;font:normal 42px 'Liberation Serif', serif;line-height:42px;color:#333333;word-spacing:3.946px">la salida de las nuevas etapas que vienen”,</div>
<div class="t" style="left:2438.50px;top:3396.07px;font:normal 42px 'Liberation Serif', serif;line-height:42px;color:#333333">dice la ejecutiva.</div>
<div class="t" style="left:2462.00px;top:3447.73px;font:normal 42px 'Liberation Serif', serif;line-height:42px;color:#333333;word-spacing:7.908px">“En síntesis, hay presión al alza por es-</div>
<div class="t" style="left:2438.50px;top:3499.39px;font:normal 42px 'Liberation Serif', serif;line-height:42px;color:#333333;word-spacing:16.712px">casez de suelo, pero también disciplina</div>
<div class="t" style="left:2438.50px;top:3551.05px;font:normal 42px 'Liberation Serif', serif;line-height:42px;color:#333333;word-spacing:5.786px">comercial y conciencia de que el mercado</div>
<div class="t" style="left:2438.50px;top:3602.71px;font:normal 42px 'Liberation Serif', serif;line-height:42px;color:#333333;word-spacing:1.417px">debe sostener un equilibrio de largo plazo”,</div>
<div class="t" style="left:2438.50px;top:3654.37px;font:normal 42px 'Liberation Serif', serif;line-height:42px;color:#333333">concluyó..</div>
<div class="t" style="left:845.60px;top:1145.83px;font:bold 38px 'Liberation Sans', sans-serif;line-height:38px;color:#1e1e1e;letter-spacing:-1px;word-spacing:-2px;transform:scaleX(0.9425);-webkit-text-stroke:1.4px #1e1e1e">PARQUES INDUSTRIALES AL CIERRE DEL 2025</div>
<div class="t" style="left:847.60px;top:1268.83px;font:bold 38px 'Liberation Sans', sans-serif;line-height:38px;color:#262626;transform:scaleX(0.8891);-webkit-text-stroke:0.7px #262626">Vacancia y precios</div>
<div class="t" style="left:848.50px;top:1336.37px;font:normal 35px 'Liberation Sans', sans-serif;line-height:35px;color:#333;transform:scaleX(0.8982)">Vacancia</div>
<div class="t" style="left:2119.00px;top:1335.87px;font:normal 35px 'Liberation Sans', sans-serif;line-height:35px;color:#333;transform:scaleX(0.8997)">Precios en UF / m2</div>
<div class="t" style="left:852.48px;top:1401.45px;font:normal 29px 'Liberation Sans', sans-serif;line-height:29px;color:#444;transform:scaleX(0.9800)">6,0</div>
<div class="t" style="left:2343.00px;top:1406.95px;font:normal 29px 'Liberation Sans', sans-serif;line-height:29px;color:#444;transform:scaleX(0.9200)">7,0</div>
<div class="t" style="left:852.48px;top:1488.45px;font:normal 29px 'Liberation Sans', sans-serif;line-height:29px;color:#444;transform:scaleX(0.9800)">5,2</div>
<div class="t" style="left:2343.00px;top:1493.95px;font:normal 29px 'Liberation Sans', sans-serif;line-height:29px;color:#444;transform:scaleX(0.9200)">6,2</div>
<div class="t" style="left:852.48px;top:1575.45px;font:normal 29px 'Liberation Sans', sans-serif;line-height:29px;color:#444;transform:scaleX(0.9800)">4,4</div>
<div class="t" style="left:2343.00px;top:1580.95px;font:normal 29px 'Liberation Sans', sans-serif;line-height:29px;color:#444;transform:scaleX(0.9200)">5,4</div>
<div class="t" style="left:852.48px;top:1661.95px;font:normal 29px 'Liberation Sans', sans-serif;line-height:29px;color:#444;transform:scaleX(0.9800)">3,6</div>
<div class="t" style="left:2343.00px;top:1667.45px;font:normal 29px 'Liberation Sans', sans-serif;line-height:29px;color:#444;transform:scaleX(0.9200)">4,6</div>
<div class="t" style="left:852.48px;top:1748.75px;font:normal 29px 'Liberation Sans', sans-serif;line-height:29px;color:#444;transform:scaleX(0.9800)">2,8</div>
<div class="t" style="left:2343.00px;top:1754.25px;font:normal 29px 'Liberation Sans', sans-serif;line-height:29px;color:#444;transform:scaleX(0.9200)">3,8</div>
<div class="t" style="left:852.48px;top:1835.75px;font:normal 29px 'Liberation Sans', sans-serif;line-height:29px;color:#444;transform:scaleX(0.9800)">2,0</div>
<div class="t" style="left:2343.00px;top:1841.25px;font:normal 29px 'Liberation Sans', sans-serif;line-height:29px;color:#444;transform:scaleX(0.9200)">3,0</div>
<div class="t" style="left:953.22px;top:1876.95px;font:normal 29px 'Liberation Sans', sans-serif;line-height:29px;color:#333;word-spacing:-3px;transform:scaleX(0.9200)">1 Sem</div>
<div class="t" style="left:1132.42px;top:1876.95px;font:normal 29px 'Liberation Sans', sans-serif;line-height:29px;color:#333;word-spacing:-3px;transform:scaleX(0.9200)">2 Sem</div>
<div class="t" style="left:1311.62px;top:1876.95px;font:normal 29px 'Liberation Sans', sans-serif;line-height:29px;color:#333;word-spacing:-3px;transform:scaleX(0.9200)">1 Sem</div>
<div class="t" style="left:1490.82px;top:1876.95px;font:normal 29px 'Liberation Sans', sans-serif;line-height:29px;color:#333;word-spacing:-3px;transform:scaleX(0.9200)">2 Sem</div>
<div class="t" style="left:1670.02px;top:1876.95px;font:normal 29px 'Liberation Sans', sans-serif;line-height:29px;color:#333;word-spacing:-3px;transform:scaleX(0.9200)">1 Sem</div>
<div class="t" style="left:1849.22px;top:1876.95px;font:normal 29px 'Liberation Sans', sans-serif;line-height:29px;color:#333;word-spacing:-3px;transform:scaleX(0.9200)">2 Sem</div>
<div class="t" style="left:2028.42px;top:1876.95px;font:normal 29px 'Liberation Sans', sans-serif;line-height:29px;color:#333;word-spacing:-3px;transform:scaleX(0.9200)">1 Sem</div>
<div class="t" style="left:2207.62px;top:1876.95px;font:normal 29px 'Liberation Sans', sans-serif;line-height:29px;color:#333;word-spacing:-3px;transform:scaleX(0.9200)">2 Sem</div>
<div class="t" style="left:1046.07px;top:1913.68px;font:normal 30.5px 'Liberation Sans', sans-serif;line-height:30.5px;color:#333">2022</div>
<div class="t" style="left:1404.47px;top:1913.68px;font:normal 30.5px 'Liberation Sans', sans-serif;line-height:30.5px;color:#333">2023</div>
<div class="t" style="left:1762.87px;top:1913.68px;font:normal 30.5px 'Liberation Sans', sans-serif;line-height:30.5px;color:#333">2024</div>
<div class="t" style="left:2121.27px;top:1913.68px;font:normal 30.5px 'Liberation Sans', sans-serif;line-height:30.5px;color:#333">2025</div>
<div class="t" style="left:2196.80px;top:1555.89px;font:bold 67px 'Liberation Serif', serif;line-height:67px;color:#44b3da;transform:scaleX(0.6164);-webkit-text-stroke:1.6px #44b3da">5,11</div>
<div class="t" style="left:2170.30px;top:1727.89px;font:bold 67px 'Liberation Serif', serif;line-height:67px;color:#eeb32a;transform:scaleX(0.6401);-webkit-text-stroke:1.6px #eeb32a">3,3%</div>
<div class="t" style="left:846.00px;top:2004.33px;font:bold 38px 'Liberation Sans', sans-serif;line-height:38px;color:#262626;transform:scaleX(0.9066);-webkit-text-stroke:0.7px #262626">Producción</div>
<div class="t" style="left:845.00px;top:2051.86px;font:normal 33px 'Liberation Sans', sans-serif;line-height:33px;color:#333;transform:scaleX(0.9770)">En hectáreas</div>
<div class="t" style="left:895.42px;top:2461.59px;font:bold 34px 'Liberation Sans', sans-serif;line-height:34px;color:#1f1f1f;transform:scaleX(0.9000)">14,7</div>
<div class="t" style="left:894.96px;top:2563.60px;font:normal 30px 'Liberation Sans', sans-serif;line-height:30px;color:#333;transform:scaleX(0.9060)">2016</div>
<div class="t" style="left:1032.82px;top:2445.94px;font:bold 34px 'Liberation Sans', sans-serif;line-height:34px;color:#1f1f1f;transform:scaleX(0.9000)">19,5</div>
<div class="t" style="left:1032.36px;top:2563.60px;font:normal 30px 'Liberation Sans', sans-serif;line-height:30px;color:#333;transform:scaleX(0.9060)">2017</div>
<div class="t" style="left:1191.49px;top:2507.21px;font:bold 34px 'Liberation Sans', sans-serif;line-height:34px;color:#1f1f1f;transform:scaleX(0.9000)">0</div>
<div class="t" style="left:1169.76px;top:2563.60px;font:normal 30px 'Liberation Sans', sans-serif;line-height:30px;color:#333;transform:scaleX(0.9060)">2018</div>
<div class="t" style="left:1307.62px;top:2433.55px;font:bold 34px 'Liberation Sans', sans-serif;line-height:34px;color:#1f1f1f;transform:scaleX(0.9000)">23,3</div>
<div class="t" style="left:1307.16px;top:2563.60px;font:normal 30px 'Liberation Sans', sans-serif;line-height:30px;color:#333;transform:scaleX(0.9060)">2019</div>
<div class="t" style="left:1445.02px;top:2458.00px;font:bold 34px 'Liberation Sans', sans-serif;line-height:34px;color:#1f1f1f;transform:scaleX(0.9000)">15,8</div>
<div class="t" style="left:1444.56px;top:2563.60px;font:normal 30px 'Liberation Sans', sans-serif;line-height:30px;color:#333;transform:scaleX(0.9060)">2020</div>
<div class="t" style="left:1582.42px;top:2366.72px;font:bold 34px 'Liberation Sans', sans-serif;line-height:34px;color:#1f1f1f;transform:scaleX(0.9000)">43,8</div>
<div class="t" style="left:1581.96px;top:2563.60px;font:normal 30px 'Liberation Sans', sans-serif;line-height:30px;color:#333;transform:scaleX(0.9060)">2021</div>
<div class="t" style="left:1741.09px;top:2507.21px;font:bold 34px 'Liberation Sans', sans-serif;line-height:34px;color:#1f1f1f;transform:scaleX(0.9000)">0</div>
<div class="t" style="left:1719.36px;top:2563.60px;font:normal 30px 'Liberation Sans', sans-serif;line-height:30px;color:#333;transform:scaleX(0.9060)">2022</div>
<div class="t" style="left:1857.22px;top:2470.07px;font:bold 34px 'Liberation Sans', sans-serif;line-height:34px;color:#1f1f1f;transform:scaleX(0.9000)">12,1</div>
<div class="t" style="left:1856.76px;top:2563.60px;font:normal 30px 'Liberation Sans', sans-serif;line-height:30px;color:#333;transform:scaleX(0.9060)">2023</div>
<div class="t" style="left:1994.62px;top:2464.20px;font:bold 34px 'Liberation Sans', sans-serif;line-height:34px;color:#1f1f1f;transform:scaleX(0.9000)">13,9</div>
<div class="t" style="left:1994.16px;top:2563.60px;font:normal 30px 'Liberation Sans', sans-serif;line-height:30px;color:#333;transform:scaleX(0.9060)">2024</div>
<div class="t" style="left:2153.29px;top:2507.21px;font:bold 34px 'Liberation Sans', sans-serif;line-height:34px;color:#1f1f1f;transform:scaleX(0.9000)">0</div>
<div class="t" style="left:2131.56px;top:2563.60px;font:normal 30px 'Liberation Sans', sans-serif;line-height:30px;color:#333;transform:scaleX(0.9060)">2025</div>
<div class="t" style="left:2260.91px;top:2034.86px;font:bold 34px 'Liberation Sans', sans-serif;line-height:34px;color:#1f1f1f;transform:scaleX(0.9000)">145,6</div>
<div class="t" style="left:2234.21px;top:2563.60px;font:normal 30px 'Liberation Sans', sans-serif;line-height:30px;color:#333;transform:scaleX(0.9060)">2026-2028</div>
<div class="t" style="left:2633.50px;top:3666.11px;font:bold 17px 'Liberation Sans', sans-serif;line-height:17px;color:#fff">P</div>
<div class="t" style="left:848.00px;top:2711.34px;font:normal 27px 'Liberation Sans', sans-serif;line-height:27px;color:#333;transform:scaleX(0.9220)">FUENTE: GPS Property</div>
<div class="t" style="left:2102.70px;top:2712.74px;font:bold 27px 'Liberation Sans', sans-serif;line-height:27px;color:#1f1f1f;transform:scaleX(0.9040)">LA TERCERA</div>
</body></html>
